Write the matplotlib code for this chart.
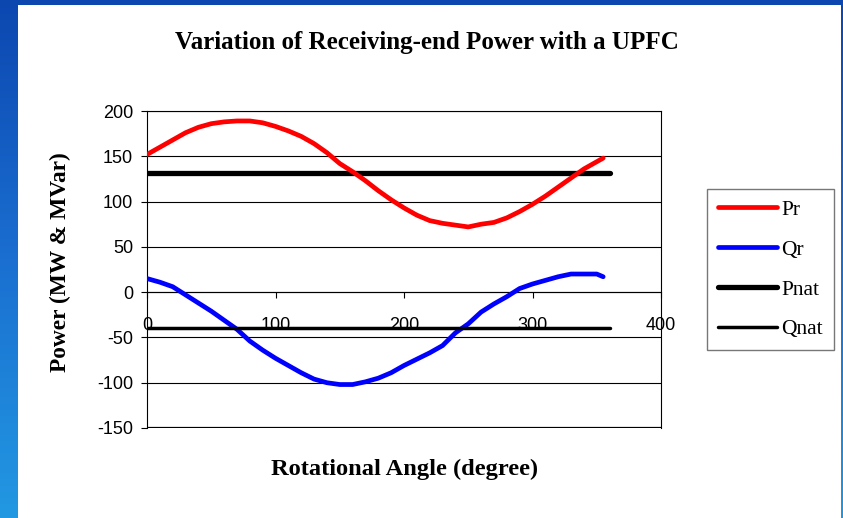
import numpy as np
import matplotlib
matplotlib.use('Agg')
import matplotlib.pyplot as plt
import matplotlib.patches as mpatches
from matplotlib.colors import LinearSegmentedColormap

plt.rcParams['axes.unicode_minus'] = False

# data
angle = [0, 10, 20, 30, 40, 50, 60, 70, 80, 90, 100, 110, 120, 130, 140, 150,
         160, 170, 180, 190, 200, 210, 220, 230, 240, 250, 260, 270, 280, 290,
         300, 310, 320, 330, 340, 350, 355]
pr = [152, 160, 168, 176, 182, 186, 188, 189, 189, 187, 183, 178, 172, 164, 154, 142,
      133, 123, 112, 102, 93, 85, 79, 76, 74, 72, 75, 77, 82, 89,
      97, 106, 116, 126, 136, 144, 148]
qr = [15, 11, 6, -3, -12, -21, -31, -41, -54, -64, -73, -81, -89, -96, -100, -102,
      -102, -99, -95, -89, -81, -74, -67, -59, -45, -35, -22, -13, -5, 4,
      9, 13, 17, 20, 20, 20, 17]
nat_angle = [0, 360]
pnat = [131, 131]
qnat = [-40, -40]

y_ticks = [-150, -100, -50, 0, 50, 100, 150, 200]
x_ticks = [0, 100, 200, 300, 400]

SERIF = ['Liberation Serif', 'DejaVu Serif']
SANS = ['Liberation Sans', 'DejaVu Sans']

fig = plt.figure(figsize=(8.43, 5.18), dpi=100)

# slide background: blue gradient with a white panel
bg = fig.add_axes([0, 0, 1, 1], zorder=-10)
cmap = LinearSegmentedColormap.from_list('slide', ['#0c47b0', '#1a6fd0', '#2298e2'])
bg.imshow(np.linspace(0, 1, 256).reshape(-1, 1), aspect='auto', cmap=cmap,
          extent=[0, 1, 0, 1], origin='upper')
bg.add_patch(mpatches.Rectangle((18 / 843, 0), (841 - 18) / 843, 513 / 518,
                                facecolor='white', edgecolor='none'))
bg.set_xlim(0, 1)
bg.set_ylim(0, 1)
bg.axis('off')

ax = fig.add_axes([147 / 843, (518 - 428) / 518, (661 - 147) / 843, (428 - 111) / 518])
ax.set_facecolor('none')

ax.plot(angle, pr, color='#ff0000', lw=3.4, solid_capstyle='round', solid_joinstyle='round',
        label='Pr', zorder=4)
ax.plot(angle, qr, color='#0000ff', lw=3.4, solid_capstyle='round', solid_joinstyle='round',
        label='Qr', zorder=4)
ax.plot(nat_angle, pnat, color='black', lw=3.8, solid_capstyle='round', label='Pnat', zorder=3)
ax.plot(nat_angle, qnat, color='black', lw=2.5, solid_capstyle='round', label='Qnat', zorder=5)

ax.set_xlim(0, 400)
ax.set_ylim(-150, 200)
ax.set_xticks(x_ticks)
ax.set_yticks(y_ticks)
ax.yaxis.grid(True, color='black', lw=0.8)
ax.set_axisbelow(True)

ax.spines['bottom'].set_position(('data', 0))
for s in ['left', 'right', 'top', 'bottom']:
    ax.spines[s].set_color('black')
    ax.spines[s].set_linewidth(0.8)
ax.axhline(-150, color='black', lw=1.6, zorder=2)

ax.tick_params(axis='y', direction='out', length=4, width=0.8, pad=6, labelsize=13)
ax.tick_params(axis='x', direction='out', length=4, width=0.8, pad=14, labelsize=13)
for lab in ax.get_xticklabels() + ax.get_yticklabels():
    lab.set_fontfamily(SANS)

fig.text(427 / 843, (518 - 42) / 518, 'Variation of Receiving-end Power with a UPFC',
         ha='center', va='center', fontsize=18, fontweight='bold', family=SERIF)
fig.text(60 / 843, (518 - 262) / 518, 'Power (MW & MVar)', rotation=90,
         ha='center', va='center', fontsize=16.8, fontweight='bold', family=SERIF)
fig.text(405 / 843, (518 - 469) / 518, 'Rotational Angle (degree)',
         ha='center', va='center', fontsize=17.6, fontweight='bold', family=SERIF)

leg = fig.legend(loc='upper left', bbox_to_anchor=(707 / 843, (518 - 189) / 518),
                 prop={'family': SERIF, 'size': 15.5}, frameon=True, fancybox=False,
                 handlelength=2.75, handletextpad=0.2, labelspacing=0.92,
                 borderpad=0.5, borderaxespad=0)
leg.get_frame().set_edgecolor('#555555')
leg.get_frame().set_linewidth(1.0)

fig.savefig('out.png', dpi=100)
